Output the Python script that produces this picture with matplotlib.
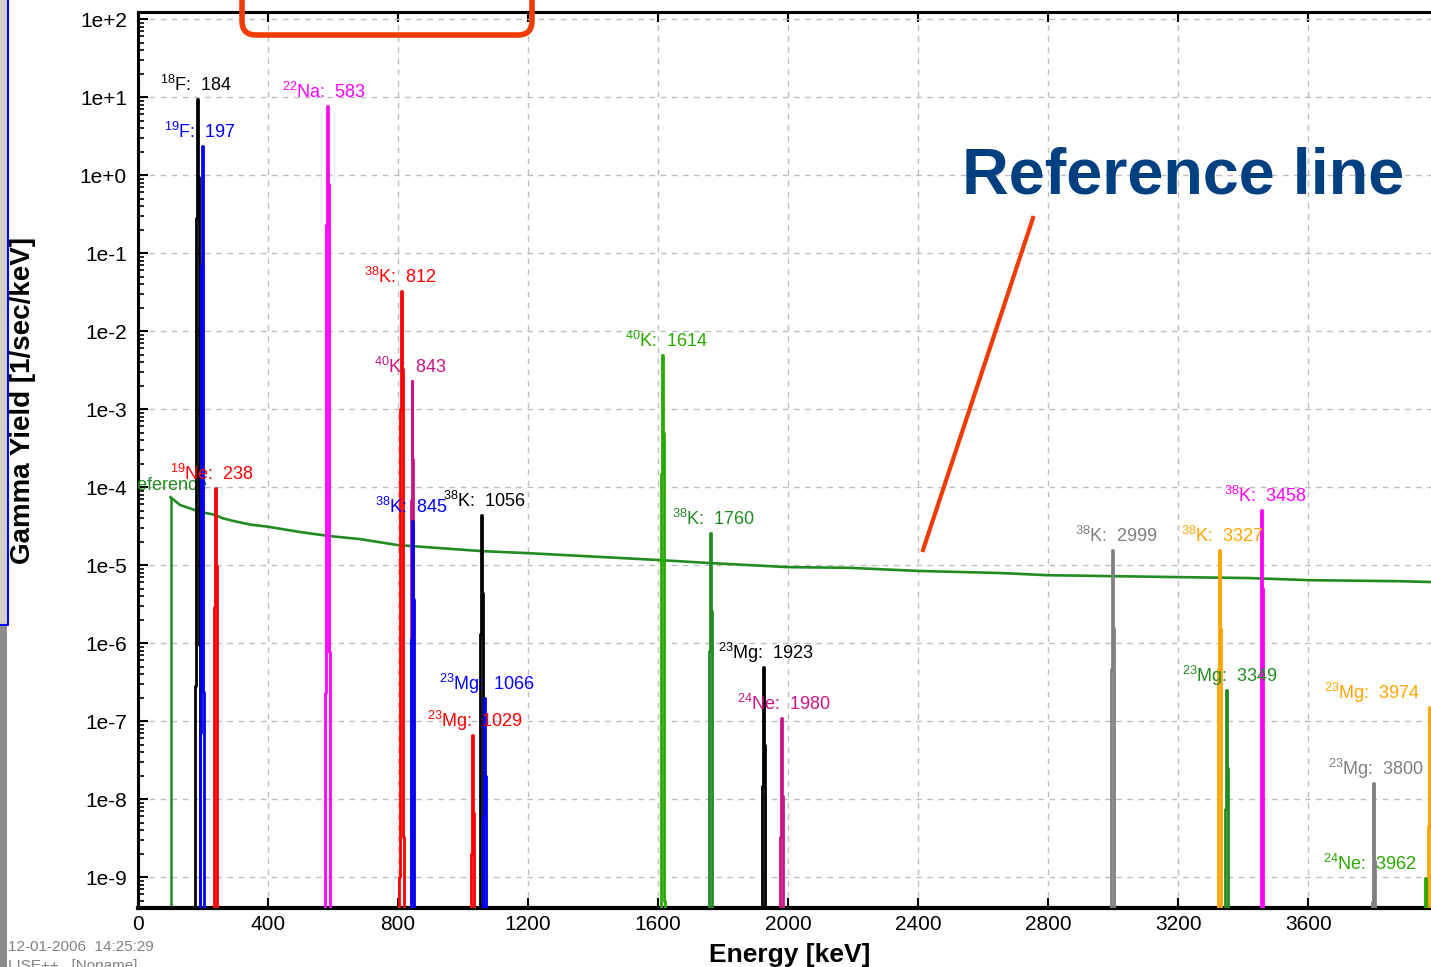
import numpy as np
import matplotlib
matplotlib.use('Agg')
import matplotlib.pyplot as plt
from matplotlib.patches import FancyBboxPatch, Rectangle
from matplotlib.lines import Line2D
from matplotlib.transforms import IdentityTransform
from matplotlib.ticker import FixedLocator, LogLocator, FuncFormatter, NullFormatter

plt.rcParams['font.family'] = ['Liberation Sans', 'DejaVu Sans']
plt.rcParams['mathtext.fontset'] = 'custom'
plt.rcParams['mathtext.rm'] = 'Liberation Sans'
plt.rcParams['mathtext.it'] = 'Liberation Sans:italic'
plt.rcParams['mathtext.bf'] = 'Liberation Sans:bold'

# gamma lines : mass number, element, energy [keV], peak yield [1/sec/keV]
masses = ['18', '19', '22', '38', '40', '19', '38', '38', '23', '23',
          '40', '38', '23', '24', '38', '38', '38', '23', '23', '23', '24']
elements = ['F', 'F', 'Na', 'K', 'K', 'Ne', 'K', 'K', 'Mg', 'Mg',
            'K', 'K', 'Mg', 'Ne', 'K', 'K', 'K', 'Mg', 'Mg', 'Mg', 'Ne']
energies = [184, 197, 583, 812, 843, 238, 845, 1056, 1066, 1029,
            1614, 1760, 1923, 1980, 2999, 3327, 3458, 3349, 3800, 3974, 3962]
yields = [9.4, 2.35, 7.7, 3.3e-2, 2.3e-3, 9.7e-5, 3.7e-5, 4.4e-5, 2.0e-7, 6.6e-8,
          4.9e-3, 2.6e-5, 4.9e-7, 1.1e-7, 1.56e-5, 1.56e-5, 5.1e-5, 2.5e-7, 1.6e-8, 1.5e-7, 9.7e-10]
colors = ['black', 'blue', 'magenta', 'red', '#C71585', 'red', 'blue', 'black', 'blue', 'red',
          '#2AA800', '#228B22', 'black', '#C71585', 'gray', 'orange', 'magenta', '#228B22', 'gray',
          'orange', '#2AA800']

# line shape over neighbouring channels (keV offset, relative yield)
chan_offset = [-9, -6, -3, 0, 3, 6, 9]
chan_rel = [1e-12, 3e-8, 3e-2, 1.0, 1e-1, 1e-7, 1e-12]

# reference curve
ref_energy = [100, 129, 191, 237, 259, 290, 345, 400, 498, 590, 683, 800, 1056, 1200,
              1422, 1600, 1760, 2000, 2191, 2400, 2652, 2800, 3000, 3200, 3422, 3600, 3883, 3980]
ref_yield = [7.4e-5, 5.9e-5, 4.8e-5, 4.4e-5, 4.0e-5, 3.7e-5, 3.3e-5, 3.1e-5, 2.65e-5, 2.35e-5,
             2.15e-5, 1.8e-5, 1.51e-5, 1.42e-5, 1.27e-5, 1.16e-5, 1.06e-5, 9.4e-6, 9.2e-6, 8.4e-6,
             7.9e-6, 7.4e-6, 7.2e-6, 7.0e-6, 6.8e-6, 6.4e-6, 6.2e-6, 6.05e-6]

xticks = [0, 400, 800, 1200, 1600, 2000, 2400, 2800, 3200, 3600]
decades = list(range(-9, 3))

W, H = 1431, 967
YMIN, YMAX = 10 ** -9.397, 10 ** 2.09


def fx(x):
    return x / W


def fy(y):
    return 1 - y / H


fig = plt.figure(figsize=(W / 100, H / 100), dpi=100)
ax = fig.add_axes([fx(138), fy(908), 1 - fx(138), fy(12) - fy(908)])
ax.set_yscale('log')
ax.set_xlim(0, 3978)
ax.set_ylim(YMIN, YMAX)

# reference curve, rising from the floor at its first channel
ax.vlines(ref_energy[0], YMIN, ref_yield[0], color='#228B22', lw=1.8, zorder=2)
ax.plot(ref_energy, ref_yield, color='#228B22', lw=1.9, zorder=2)
ax.annotate('reference', (ref_energy[0], ref_yield[0]), xytext=(-39, 12),
            textcoords='offset pixels', color='#228B22', fontsize=13,
            ha='left', va='center', annotation_clip=False, clip_on=True)

for m, el, e, yv, c in zip(masses, elements, energies, yields, colors):
    xs = [e + o for o in chan_offset]
    ys = [yv * r for r in chan_rel]
    ax.plot(xs, ys, drawstyle='steps-mid', color=c, lw=2.0, zorder=3)
    label = '$^{%s}$%s:  %d' % (m, el, e)
    if e > 3900:
        ax.annotate(label, (e, yv), xytext=(-9, 14), textcoords='offset pixels',
                    color=c, fontsize=13, ha='right', va='center', zorder=4)
    else:
        dx = -38 if len(el) == 1 else -45
        ax.annotate(label, (e, yv), xytext=(dx, 14), textcoords='offset pixels',
                    color=c, fontsize=13, ha='left', va='center', zorder=4)

ax.xaxis.set_major_locator(FixedLocator(xticks))
ax.yaxis.set_major_locator(FixedLocator([10.0 ** d for d in decades]))
ax.yaxis.set_minor_locator(LogLocator(base=10, subs=np.arange(2, 10), numticks=40))
ax.yaxis.set_minor_formatter(NullFormatter())
ax.yaxis.set_major_formatter(FuncFormatter(lambda v, p: '1e%+d' % int(round(np.log10(v)))))

ax.grid(True, which='major', color='#BDBDBD', linestyle=(0, (4, 4)), lw=1)
ax.tick_params(axis='both', which='major', direction='in', length=7, width=1.5,
               top=True, right=False, labelsize=15, colors='black')
ax.tick_params(axis='y', which='major', pad=8)
ax.tick_params(axis='x', which='major', pad=5)
ax.tick_params(axis='y', which='minor', direction='in', length=4, width=1.2)
for s in ['left', 'top']:
    ax.spines[s].set_linewidth(2.2)
ax.spines['bottom'].set_linewidth(3)
ax.spines['right'].set_visible(False)

# axis titles
fig.text(fx(23), fy(400), 'Gamma Yield [1/sec/keV]', rotation=90, ha='center', va='center',
         fontsize=20, weight='bold')
fig.text(fx(790), fy(955), 'Energy [keV]', ha='center', va='center',
         fontsize=19, weight='bold')
fig.text(fx(8), fy(947), '12-01-2006  14:25:29', ha='left', va='center',
         fontsize=11, color='#808080')
fig.text(fx(8), fy(966), 'LISE++   [Noname]', ha='left', va='center',
         fontsize=11, color='#808080')

# window frame on the left
fig.add_artist(Rectangle((0, H - 625), 7, 625, transform=IdentityTransform(),
                         facecolor='#D4D0C8', edgecolor='none'))
fig.add_artist(Rectangle((0, 0), 7, H - 625, transform=IdentityTransform(),
                         facecolor='#8C8C8C', edgecolor='none'))
fig.add_artist(Line2D([8, 8, 0], [H, H - 625, H - 625], transform=IdentityTransform(),
                      color='blue', lw=1.5))

# slide annotations
fig.add_artist(FancyBboxPatch((242, H - 35), 290, 60, transform=IdentityTransform(),
                              boxstyle='round,pad=0,rounding_size=14',
                              facecolor='none', edgecolor='#F03C00', lw=4))
fig.add_artist(Line2D([1033, 923], [H - 218, H - 550], transform=IdentityTransform(),
                      color='#F03C00', lw=3))
fig.text(fx(962), fy(176), 'Reference line', ha='left', va='center',
         fontsize=46.5, weight='bold', color='#003F80')

fig.savefig('out.png', dpi=100)
